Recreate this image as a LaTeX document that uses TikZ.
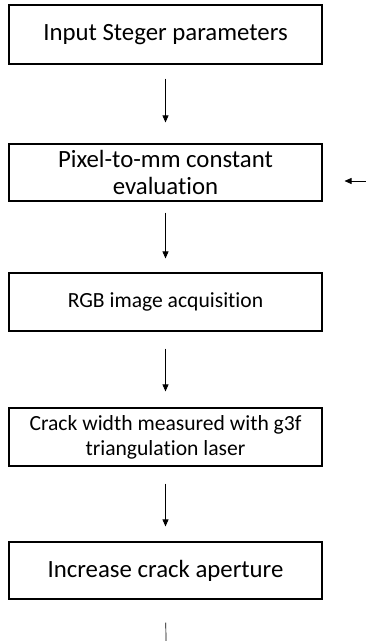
\documentclass[tikz,border=0pt]{standalone}
\usepackage{fontspec}
\setmainfont[Ligatures=NoCommon]{Carlito}
\usetikzlibrary{arrows.meta,positioning,calc}

\tikzset{
  stepbox/.style={draw,line width=1.1pt,minimum width=313pt,minimum height=58pt,
    inner sep=0pt,align=center},
  bigtext/.style={font=\fontsize{24.8}{27}\selectfont},
  smalltext/.style={font=\fontsize{21.6}{25}\selectfont},
  flow/.style={-{Triangle[length=7pt,width=6pt]},line width=0.7pt}
}

\begin{document}
\begin{tikzpicture}[x=1pt,y=-1pt]
  \useasboundingbox (0,0) rectangle (366,641);
  % boxes
  \node[stepbox,bigtext,minimum height=59pt] (steger) at (165.5,34.5)
    {Input Steger parameters};
  \node[stepbox,bigtext,minimum height=57pt] (pixmm) at (165.5,172.5)
    {Pixel-to-mm constant\\evaluation};
  \node[stepbox,smalltext] (rgb) at (165.5,302)
    {RGB image acquisition};
  \node[stepbox,smalltext] (laser) at (165.5,437)
    {Crack width measured with g3f\\triangulation laser};
  \node[stepbox,bigtext,minimum height=57pt] (crack) at (165.5,570.5)
    {Increase crack aperture};
  % arrows
  \draw[flow,shorten <=14pt,shorten >=21pt] (steger) -- (pixmm);
  \draw[flow,shorten <=11pt,shorten >=14pt] (pixmm) -- (rgb);
  \draw[flow,shorten <=17pt,shorten >=16pt] (rgb) -- (laser);
  \draw[flow,shorten <=17pt,shorten >=15pt] (laser) -- (crack);
  \coordinate (loopin) at (366,181);
  \coordinate (loopout) at (166,641);
  \draw[flow] (loopin) -- ([xshift=22pt]pixmm.east |- loopin);
  \draw[line width=0.7pt,shorten <=23pt] (crack.south) -- (loopout);
\end{tikzpicture}
\end{document}
